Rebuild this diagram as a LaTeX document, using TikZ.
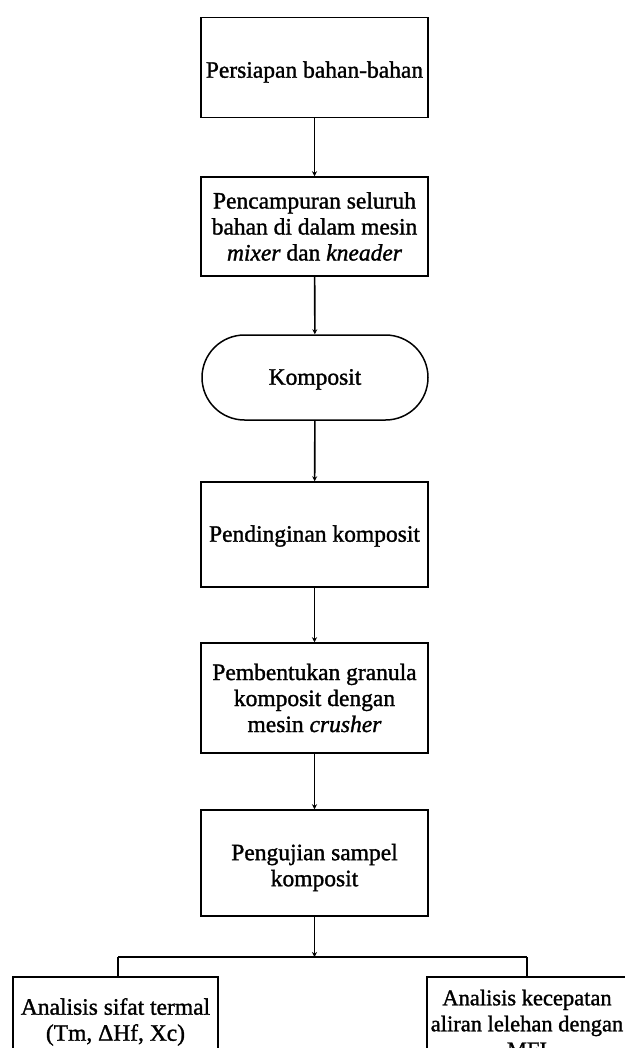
\documentclass[tikz,border=0pt]{standalone}
\usepackage{fontspec}
\setmainfont{Liberation Serif}[
  BoldFont={Liberation Serif}, BoldFeatures={FakeBold=1.3},
  BoldItalicFont={Liberation Serif Italic}, BoldItalicFeatures={FakeBold=1.3}]
\usetikzlibrary{arrows.meta,shapes.misc}
\newcommand\lowered[2]{\raisebox{-#1}[\height][\depth]{\begin{tabular}{@{}c@{}}#2\end{tabular}}}
\begin{document}
\begin{tikzpicture}[x=1pt,y=-1pt,
  box/.style={draw, line width=1.5pt, minimum width=227pt, inner sep=0pt, align=center,
    font=\fontsize{23.5}{26}\selectfont\bfseries},
  term/.style={box, rounded rectangle, minimum width=226pt},
  conn/.style={line width=1.6pt, -{Stealth[length=5pt,width=5pt]}},
  link/.style={line width=1.6pt},
]
\useasboundingbox (0,0) rectangle (624,1048);
\node[box, minimum height=100pt] (b1) at (314.5,67.5) {\lowered{5pt}{Persiapan bahan-bahan}};
\node[box, minimum height=99pt] (b2) at (314.5,226.5) {Pencampuran seluruh\\bahan di dalam mesin\\\textit{mixer} dan \textit{kneader}};
\node[term, minimum height=85pt] (b3) at (315,377.5) {\lowered{2pt}{Komposit}};
\node[box, minimum height=105pt] (b4) at (314.5,534.5) {\lowered{2pt}{Pendinginan komposit}};
\node[box, minimum height=110pt] (b5) at (314.5,698) {\fontsize{23.5}{24}\selectfont Pembentukan granula\\komposit dengan\\mesin \textit{crusher}};
\node[box, minimum height=106pt] (b6) at (314.5,863) {\lowered{5pt}{Pengujian sampel\\komposit}};
\node[box, minimum width=205pt, minimum height=93pt] (l) at (115.5,1023.5) {\lowered{-1pt}{\fontsize{23.5}{23.5}\selectfont Analisis sifat termal\\(Tm, ΔHf, Xc)}};
\node[box, minimum width=200pt, minimum height=93pt, font=\fontsize{22.5}{26}\selectfont\bfseries] (r) at (527,1023.5) {Analisis kecepatan\\aliran lelehan dengan\\MFI};
\draw[conn] (b1) -- (b2);
\draw[conn] (b2) -- (b3);
\draw[conn] (b3) -- (b4);
\draw[conn] (b4) -- (b5);
\draw[conn] (b5) -- (b6);
\coordinate (j) at (314.5,957);
\coordinate (jl) at (118,957);
\coordinate (jr) at (527,957);
\draw[conn] (b6) -- (j);
\draw[link] (jl) -- (jr);
\draw[link] (jl) -- (jl |- l.north);
\draw[link] (jr) -- (jr |- r.north);
\end{tikzpicture}
\end{document}
